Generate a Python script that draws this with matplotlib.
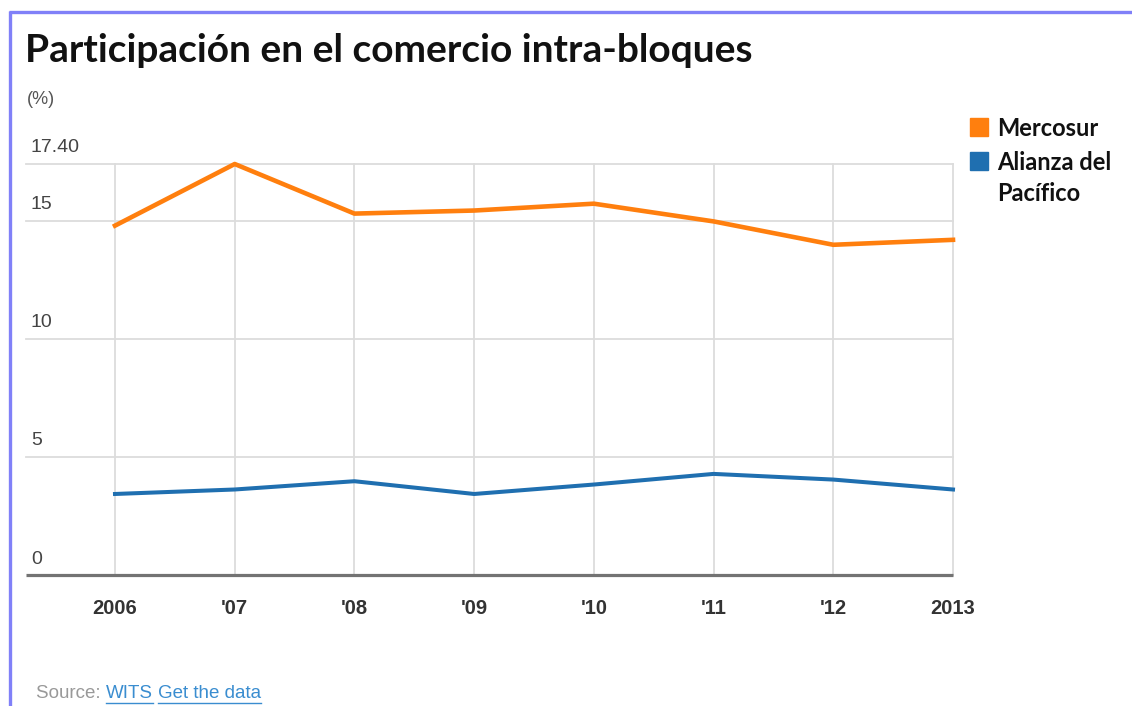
import matplotlib
matplotlib.use("Agg")
import matplotlib.pyplot as plt
from matplotlib.lines import Line2D
from matplotlib.patches import Rectangle
import matplotlib.transforms as mtransforms

years = [2006, 2007, 2008, 2009, 2010, 2011, 2012, 2013]
year_labels = ["2006", "'07", "'08", "'09", "'10", "'11", "'12", "2013"]
mercosur = [14.79, 17.40, 15.30, 15.43, 15.72, 14.97, 13.98, 14.19]
alianza = [3.43, 3.62, 3.97, 3.43, 3.83, 4.28, 4.04, 3.62]
ytick_values = [0, 5, 10, 15, 17.4]
ytick_labels = ["0", "5", "10", "15", "17.40"]
series_names = ["Mercosur", "Alianza del\nPacífico"]
title = "Participación en el comercio intra-bloques"

ORANGE = "#ff7f0e"
BLUE = "#1f6fb0"

W, H = 1132, 706
fig = plt.figure(figsize=(W / 100, H / 100), dpi=100)
fig.patch.set_facecolor("white")

def fx(px):
    return px / W

def fy(py):
    return 1 - py / H

ax = fig.add_axes([fx(26), fy(575), fx(953) - fx(26), fy(164) - fy(575)])
ax.set_xlim(2006 - (115 - 26) / ((953 - 115) / 7), 2013)
ax.set_ylim(0, 17.4)
for s in ax.spines.values():
    s.set_visible(False)
ax.set_xticks([])
ax.set_yticks([])

# horizontal gridlines
for v in ytick_values[1:]:
    ax.axhline(v, color="#dcdcdc", lw=1.3, zorder=1, clip_on=False)
# vertical gridlines
for yr in years:
    ax.axvline(yr, color="#dcdcdc", lw=1.3, zorder=1, clip_on=False)
# baseline
ax.axhline(0, color="#737373", lw=2.3, zorder=3, solid_capstyle="butt",
           clip_on=False)

ax.plot(years, mercosur, color=ORANGE, lw=3.3, zorder=4, clip_on=False)
ax.plot(years, alianza, color=BLUE, lw=2.9, zorder=4, clip_on=False)

# y tick labels above the gridlines
trans = mtransforms.blended_transform_factory(ax.transAxes, ax.transData)
off = mtransforms.offset_copy(trans, fig=fig, x=5, y=16, units="dots")
for v, lab in zip(ytick_values, ytick_labels):
    ax.text(0, v, lab, transform=off, ha="left", va="center",
            fontsize=14, color="#444444", family="Liberation Sans")

# x tick labels
transx = mtransforms.blended_transform_factory(ax.transData, ax.transAxes)
offx = mtransforms.offset_copy(transx, fig=fig, x=0, y=-33, units="dots")
for yr, lab in zip(years, year_labels):
    ax.text(yr, 0, lab, transform=offx, ha="center", va="center",
            fontsize=14.5, fontweight="bold", color="#333333",
            family="Liberation Sans")

# title and unit
fig.text(fx(25), fy(50), title, ha="left", va="center", fontsize=28,
         fontweight="bold", color="#111111", family="Lato")
fig.text(fx(27), fy(100), "(%)", ha="left", va="center", fontsize=13,
         color="#555555", family="Liberation Sans")

# legend
for i, col in enumerate([ORANGE, BLUE]):
    top = [118, 152][i]
    fig.add_artist(Rectangle((fx(970), fy(top + 18)), fx(18), 18 / H,
                             color=col, transform=fig.transFigure))
fig.text(fx(997), fy(128), series_names[0], ha="left", va="center",
         fontsize=17, fontweight="bold", color="#111111", family="Lato")
fig.text(fx(997), fy(178), series_names[1], ha="left", va="center",
         fontsize=17, fontweight="bold", color="#111111", family="Lato",
         linespacing=1.4)

# source
src_y = fy(693)
fs_src = 13.5
t1 = fig.text(fx(36), src_y, "Source: ", ha="left", va="center",
              fontsize=fs_src, color="#999999", family="Liberation Sans")
fig.canvas.draw()
r = fig.canvas.get_renderer()
bb = t1.get_window_extent(r)
t2 = fig.text(bb.x1 / W, src_y, "WITS", ha="left", va="center",
              fontsize=fs_src, color="#3a8dd0", family="Liberation Sans")
bb2 = t2.get_window_extent(r)
fig.add_artist(Line2D([bb2.x0 / W, bb2.x1 / W], [fy(703), fy(703)],
                      color="#3a8dd0", lw=1, transform=fig.transFigure))
sp = 5
t3 = fig.text((bb2.x1 + sp) / W, src_y, "Get the data", ha="left", va="center",
              fontsize=fs_src, color="#3a8dd0", family="Liberation Sans")
bb3 = t3.get_window_extent(r)
fig.add_artist(Line2D([bb3.x0 / W, bb3.x1 / W], [fy(703), fy(703)],
                      color="#3a8dd0", lw=1, transform=fig.transFigure))

# frame border
border = "#8080f8"
fig.add_artist(Line2D([fx(9), 1], [fy(12), fy(12)], color=border, lw=2.4,
                      transform=fig.transFigure, solid_capstyle="butt"))
fig.add_artist(Line2D([fx(10), fx(10)], [fy(11), 0], color=border, lw=2.4,
                      transform=fig.transFigure, solid_capstyle="butt"))

fig.savefig("out.png", dpi=100)
